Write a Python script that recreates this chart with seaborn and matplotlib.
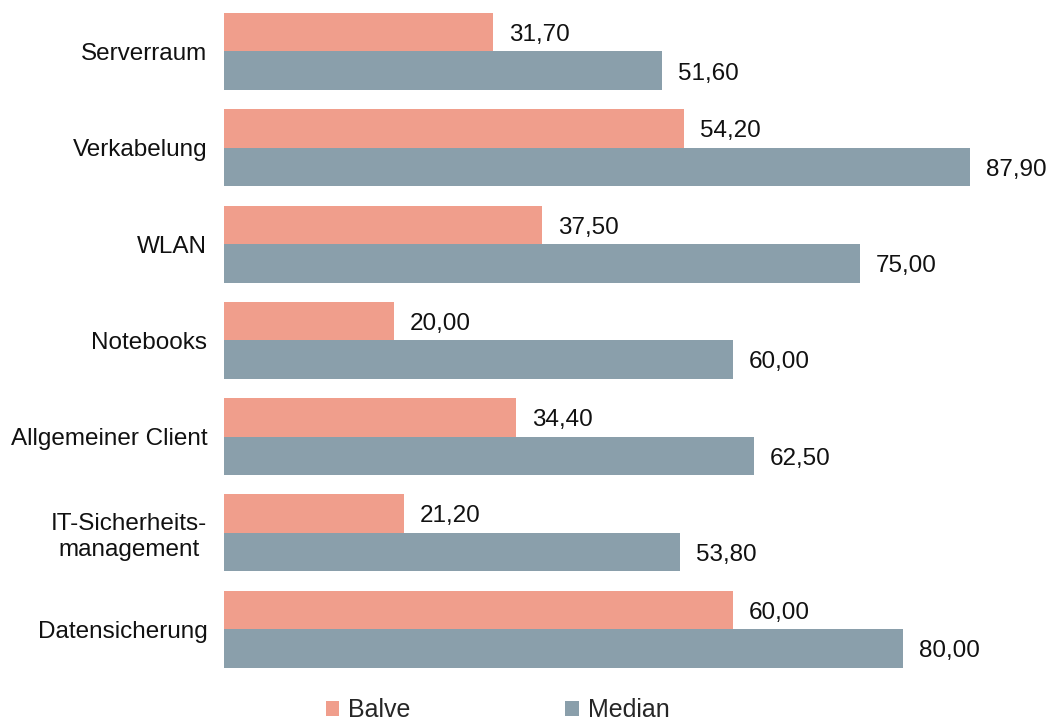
import matplotlib
matplotlib.use("Agg")
import matplotlib.pyplot as plt
import seaborn as sns
import pandas as pd
from matplotlib.patches import Patch

categories = ["Serverraum", "Verkabelung", "WLAN", "Notebooks",
              "Allgemeiner Client", "IT-Sicherheits-\nmanagement", "Datensicherung"]
balve = [31.70, 54.20, 37.50, 20.00, 34.40, 21.20, 60.00]
median = [51.60, 87.90, 75.00, 60.00, 62.50, 53.80, 80.00]
series = ["Balve", "Median"]
colors = ["#F09E8C", "#8A9FAB"]

df = pd.DataFrame({
    "Bereich": categories * 2,
    "Wert": balve + median,
    "Reihe": [series[0]] * len(categories) + [series[1]] * len(categories),
})

sns.set_theme(style="white")
plt.rcParams["font.family"] = ["Liberation Sans", "DejaVu Sans"]

fig = plt.figure(figsize=(10.52, 7.24), dpi=100)
ax = fig.add_axes([0.2129, 0.0644, 0.766, 0.931])

sns.barplot(data=df, y="Bereich", x="Wert", hue="Reihe", orient="h",
            palette=colors, width=0.8, saturation=1, linewidth=0,
            edgecolor="none", ax=ax, legend=False)

for cont in ax.containers:
    anns = ax.bar_label(cont, labels=[f"{v:.2f}".replace(".", ",") for v in cont.datavalues],
                        padding=11.5, fontsize=17.5, color="#111111")
    for a in anns:
        a.xyann = (11.5, -2)

ax.set_xlim(0, 95)
ax.set_ylim(6.5, -0.5)
ax.set_xlabel("")
ax.set_ylabel("")
ax.set_xticks([])
ax.tick_params(axis="y", length=0, pad=12, labelsize=17.5, labelcolor="#111111")
for lbl in ax.get_yticklabels():
    lbl.set_horizontalalignment("right")
    lbl.set_multialignment("center")
for s in ax.spines.values():
    s.set_visible(False)

handles = [Patch(facecolor=c, edgecolor="none", label=l) for c, l in zip(colors, series)]
fig.legend(handles=handles, loc="lower center", bbox_to_anchor=(0.473, -0.029),
           ncol=2, frameon=False, fontsize=18, handlelength=0.55, handleheight=0.55,
           handletextpad=0.35, columnspacing=6.2)

fig.savefig("out.png", dpi=100, facecolor="white")
